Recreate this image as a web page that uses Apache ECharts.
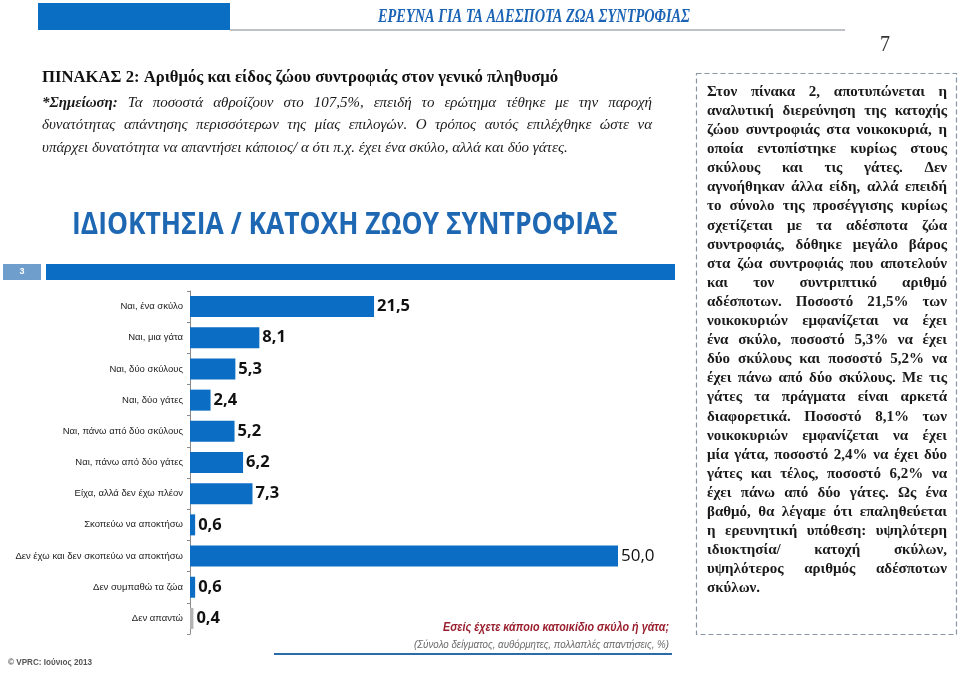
<!DOCTYPE html>
<html><head><meta charset="utf-8">
<script src="https://cdn.jsdelivr.net/npm/echarts@6/dist/echarts.min.js"></script>
<style>html,body{margin:0;padding:0;background:#fff;}#c{width:960px;height:675px;}</style>
</head><body><div id="c"></div>
<script>
// ---- data ----
const categories = ['Ναι, ένα σκύλο','Ναι, μια γάτα','Ναι, δύο σκύλους','Ναι, δύο γάτες','Ναι, πάνω από δύο σκύλους','Ναι, πάνω από δύο γάτες','Είχα, αλλά δεν έχω πλέον','Σκοπεύω να αποκτήσω','Δεν έχω και δεν σκοπεύω να αποκτήσω','Δεν συμπαθώ τα ζώα','Δεν απαντώ'];
const values = [21.5, 8.1, 5.3, 2.4, 5.2, 6.2, 7.3, 0.6, 50.0, 0.6, 0.4];
const headerText = 'ΕΡΕΥΝΑ ΓΙΑ ΤΑ ΑΔΕΣΠΟΤΑ ΖΩΑ ΣΥΝΤΡΟΦΙΑΣ';
const pageNumber = '7';
const tableTitle = 'ΠΙΝΑΚΑΣ 2: Αριθμός και είδος ζώου συντροφιάς στον γενικό πληθυσμό';
const noteLines = [
 '*Σημείωση: Τα ποσοστά αθροίζουν στο 107,5%, επειδή το ερώτημα τέθηκε με την παροχή',
 'δυνατότητας απάντησης περισσότερων της μίας επιλογών. Ο τρόπος αυτός επιλέχθηκε ώστε να',
 'υπάρχει δυνατότητα να απαντήσει κάποιος/ α ότι π.χ. έχει ένα σκύλο, αλλά και δύο γάτες.'
];
const chartTitle = 'ΙΔΙΟΚΤΗΣΙΑ / ΚΑΤΟΧΗ ΖΩΟΥ ΣΥΝΤΡΟΦΙΑΣ';
const slideNumber = '3';
const questionText = 'Εσείς έχετε κάποιο κατοικίδιο σκύλο ή γάτα;';
const baseText = '(Σύνολο δείγματος, αυθόρμητες, πολλαπλές απαντήσεις, %)';
const sourceText = '© VPRC: Ιούνιος 2013';
const boxLines = [
 'Στον πίνακα 2, αποτυπώνεται η',
 'αναλυτική διερεύνηση της κατοχής',
 'ζώου συντροφιάς στα νοικοκυριά, η',
 'οποία εντοπίστηκε κυρίως στους',
 'σκύλους και τις γάτες. Δεν',
 'αγνοήθηκαν άλλα είδη, αλλά επειδή',
 'το σύνολο της προσέγγισης κυρίως',
 'σχετίζεται με τα αδέσποτα ζώα',
 'συντροφιάς, δόθηκε μεγάλο βάρος',
 'στα ζώα συντροφιάς που αποτελούν',
 'και τον συντριπτικό αριθμό',
 'αδέσποτων. Ποσοστό 21,5% των',
 'νοικοκυριών εμφανίζεται να έχει',
 'ένα σκύλο, ποσοστό 5,3% να έχει',
 'δύο σκύλους και ποσοστό 5,2% να',
 'έχει πάνω από δύο σκύλους. Με τις',
 'γάτες τα πράγματα είναι αρκετά',
 'διαφορετικά. Ποσοστό 8,1% των',
 'νοικοκυριών εμφανίζεται να έχει',
 'μία γάτα, ποσοστό 2,4% να έχει δύο',
 'γάτες και τέλος, ποσοστό 6,2% να',
 'έχει πάνω από δύο γάτες. Ως ένα',
 'βαθμό, θα λέγαμε ότι επαληθεύεται',
 'η ερευνητική υπόθεση: υψηλότερη',
 'ιδιοκτησία/ κατοχή σκύλων,',
 'υψηλότερος αριθμός αδέσποτων',
 'σκύλων.'
];

// ---- helpers ----
const cv = document.createElement('canvas').getContext('2d');
function mw(t, font){ cv.font = font; return cv.measureText(t).width; }
function txt(text, x, y, font, fill, align, extra){
  const e = {type:'text', x:x, y:y, silent:true, style:{text:text, font:font, fill:fill,
    align:align||'left', verticalAlign:'middle', textAlign:align||'left', textVerticalAlign:'middle'}};
  return Object.assign(e, extra||{});
}
function fitText(text, x, y, font, fill, align, targetW){
  const w = mw(text, font);
  return txt(text, x, y, font, fill, align, {scaleX: targetW / w});
}
function justify(lines, x0, width, y0, lh, fontFn, fill, lastNatural){
  const out = [];
  lines.forEach((line, li) => {
    const words = line.split(/\s+/).filter(s => s.length);
    const fonts = words.map((w, wi) => fontFn(li, wi, w));
    const ws = words.map((w, i) => mw(w, fonts[i]));
    const sum = ws.reduce((a, b) => a + b, 0);
    const natural = (li === lines.length - 1 && lastNatural);
    const sp = mw(' ', fonts[0]);
    let gap = (natural || words.length < 2) ? sp : (width - sum) / (words.length - 1);
    let sx = 1;
    if (gap < 2) { gap = 2; sx = (width - 2 * (words.length - 1)) / sum; }
    let x = x0;
    words.forEach((w, i) => {
      out.push(txt(w, x, y0 + li * lh, fonts[i], fill, 'left', sx !== 1 ? {scaleX:sx} : null));
      x += ws[i] * sx + gap;
    });
  });
  return out;
}

const SERIF = '"Liberation Serif", "DejaVu Serif", serif';
const SANS = '"Open Sans", "Liberation Sans", sans-serif';
const LSANS = '"Liberation Sans", "Open Sans", sans-serif';

let graphics = [];
// header
graphics.push({type:'rect', shape:{x:38, y:3, width:192, height:27}, style:{fill:'#0a6fc2'}, silent:true});
graphics.push({type:'line', shape:{x1:230, y1:30, x2:845, y2:30}, style:{stroke:'#a9adb3', lineWidth:1.5}, silent:true});
graphics.push(fitText(headerText, 378, 17, 'italic bold 18px ' + SERIF, '#1b63b5', 'left', 312));
graphics.push(fitText(pageNumber, 885, 45, '24px ' + SERIF, '#333', 'center', 10));
// table title + note
graphics.push(fitText(tableTitle, 42, 78, 'bold 17px ' + SERIF, '#111', 'left', 516));
graphics = graphics.concat(justify(noteLines, 42, 610, 103, 22.5,
  (li, wi) => (li === 0 && wi === 0) ? 'italic bold 15px ' + SERIF : 'italic 15px ' + SERIF, '#1a1a1a', true));
// chart title + band
graphics.push(fitText(chartTitle, 345, 225, 'bold 31px ' + SANS, '#1e67b3', 'center', 546));
graphics.push({type:'rect', shape:{x:3, y:264, width:38, height:16}, style:{fill:'#6f9ecd'}, silent:true});
graphics.push(txt(slideNumber, 22, 272, 'bold 9px ' + LSANS, '#fff', 'center'));
graphics.push({type:'rect', shape:{x:46, y:264, width:629, height:16}, style:{fill:'#0b6dc3'}, silent:true});
// footer
graphics.push(fitText(questionText, 669, 628, 'italic bold 12px ' + LSANS, '#9a1f2e', 'right', 226));
graphics.push(fitText(baseText, 669, 645, 'italic 10.5px ' + LSANS, '#6a6a6a', 'right', 255));
graphics.push({type:'line', shape:{x1:274, y1:654, x2:672, y2:654}, style:{stroke:'#2d6aaa', lineWidth:2}, silent:true});
graphics.push(fitText(sourceText, 8, 663, 'bold 9px ' + LSANS, '#555', 'left', 84));
// right box
graphics.push({type:'rect', shape:{x:696.5, y:73.5, width:260, height:561}, style:{fill:null, stroke:'#8796a4', lineWidth:1.2, lineDash:[5,3]}, silent:true});
graphics = graphics.concat(justify(boxLines, 707, 240, 92, 19.1,
  () => 'bold 15px ' + SERIF, '#1a1a1a', true));

const maxVal = Math.max.apply(null, values);
const chart = echarts.init(document.getElementById('c'), null, {renderer:'canvas'});
chart.setOption({
  backgroundColor:'#fff',
  animation:false,
  grid:{left:190, top:291, height:343, width:513.6},
  xAxis:{type:'value', min:0, max:60, show:false},
  yAxis:{type:'category', data:categories, inverse:true,
    axisLine:{show:true, lineStyle:{color:'#8a8a8a', width:1}},
    axisTick:{show:true, length:3, lineStyle:{color:'#8a8a8a'}},
    axisLabel:{fontSize:9.5, color:'#222', fontFamily:LSANS, margin:7}},
  series:[{type:'bar', data:values, barWidth:21,
    itemStyle:{color: p => p.dataIndex === values.length - 1 ? '#b3b3b3' : '#0b6dc3'},
    label:{show:true, position:'right', distance:3,
      formatter: p => {
        const s = p.value.toFixed(1).replace('.', ',');
        return p.value === maxVal ? '{n|' + s + '}' : '{b|' + s + '}';
      },
      rich:{
        b:{fontFamily:SANS, fontWeight:'bold', fontSize:16.5, color:'#111'},
        n:{fontFamily:SANS, fontWeight:'normal', fontSize:17, color:'#111'}
      }}
  }],
  graphic:{elements:graphics}
});
</script></body></html>
